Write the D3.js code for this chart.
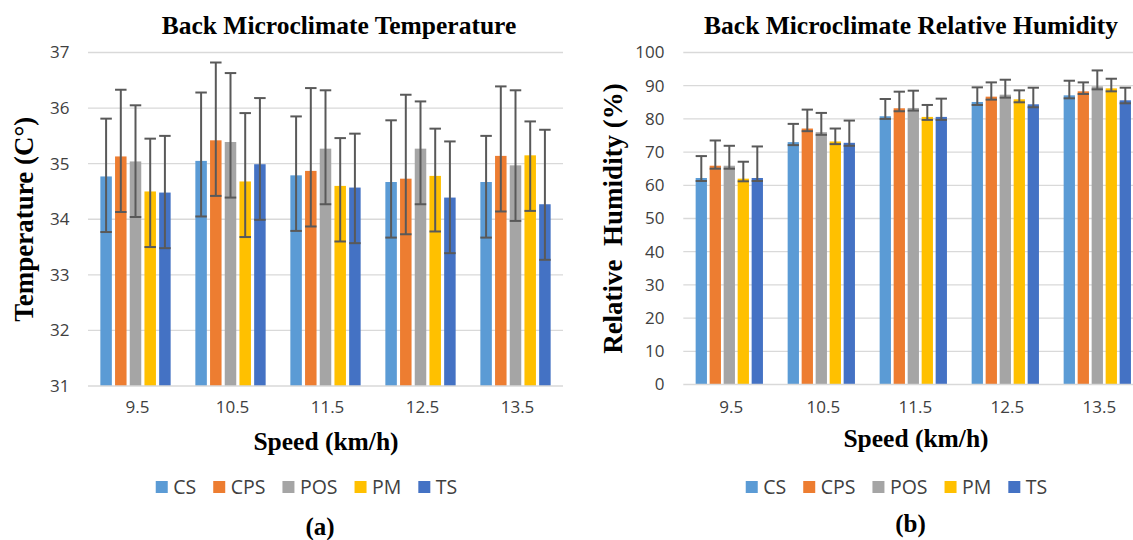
<!DOCTYPE html>
<html><head><meta charset="utf-8">
<script src="https://cdn.jsdelivr.net/npm/d3@7"></script>
<style>body{margin:0;background:#fff} svg{display:block}</style>
</head><body><svg id="c" width="1133" height="540"></svg>
<script>
// ---------- DATA ----------
const categories = ["9.5", "10.5", "11.5", "12.5", "13.5"];
const seriesNames = ["CS", "CPS", "POS", "PM", "TS"];
const seriesColors = ["#5B9BD5", "#ED7D31", "#A5A5A5", "#FFC000", "#4472C4"];

// Temperature (°C), rows = series (CS, CPS, POS, PM, TS), cols = speeds
const tempMean = [
  [34.77, 35.05, 34.79, 34.67, 34.67],
  [35.13, 35.42, 34.87, 34.73, 35.14],
  [35.04, 35.39, 35.27, 35.27, 34.97],
  [34.50, 34.68, 34.60, 34.78, 35.15],
  [34.48, 34.99, 34.57, 34.39, 34.27]
];
const tempErrPlus = [
  [1.04, 1.23, 1.06, 1.11, 0.83],
  [1.20, 1.40, 1.49, 1.51, 1.25],
  [1.01, 1.24, 1.05, 0.85, 1.35],
  [0.95, 1.23, 0.86, 0.85, 0.61],
  [1.02, 1.19, 0.97, 1.01, 1.34]
];
const tempErrMinus = [
  [1.0, 1.0, 1.0, 1.0, 1.0],
  [1.0, 1.0, 1.0, 1.0, 1.0],
  [1.0, 1.0, 1.0, 1.0, 1.0],
  [1.0, 1.0, 1.0, 1.0, 1.0],
  [1.0, 1.0, 1.0, 1.0, 1.0]
];
const tempTicks = [31, 32, 33, 34, 35, 36, 37];

// Relative humidity (%)
const humMean = [
  [62.2, 73.0, 80.8, 85.1, 87.1],
  [65.9, 77.1, 83.2, 86.7, 88.3],
  [65.9, 76.0, 83.3, 87.3, 89.8],
  [62.0, 73.2, 80.6, 85.9, 89.2],
  [62.2, 72.8, 80.6, 84.4, 85.6]
];
const humErrPlus = [
  [6.6, 5.5, 5.2, 4.4, 4.4],
  [7.6, 5.7, 5.0, 4.3, 2.7],
  [6.0, 5.8, 5.2, 4.5, 4.8],
  [5.1, 3.9, 3.6, 2.7, 2.9],
  [9.5, 6.7, 5.5, 5.0, 3.8]
];
const humErrMinus = [
  [0.9, 0.9, 0.8, 0.9, 0.9],
  [0.9, 0.8, 0.9, 0.9, 0.8],
  [0.9, 0.8, 0.8, 0.9, 0.9],
  [0.8, 0.8, 0.9, 0.9, 0.9],
  [0.9, 0.9, 0.9, 0.9, 0.9]
];
const humTicks = [0, 10, 20, 30, 40, 50, 60, 70, 80, 90, 100];

// ---------- DRAW ----------
const svg = d3.select("#c");
const SANS = "'Open Sans', sans-serif";
const SERIF = "'Liberation Serif', 'Times New Roman', serif";

function panel(o) {
  const x0 = d3.scaleBand().domain(categories).range([o.left, o.right]);
  const bw = x0.bandwidth();
  const x1 = d3.scaleBand().domain(seriesNames)
    .range([(bw - o.groupW) / 2, (bw + o.groupW) / 2]).paddingInner(o.pad);
  const y = d3.scaleLinear().domain(o.domain).range([o.bottom, o.top]);
  const g = svg.append("g");

  // gridlines
  g.append("g").selectAll("line").data(o.ticks.slice(1)).join("line")
    .attr("x1", o.left).attr("x2", o.right)
    .attr("y1", d => y(d)).attr("y2", d => y(d))
    .attr("stroke", "#d9d9d9").attr("stroke-width", 1.3);

  // y axis labels
  const ya = g.append("g").attr("transform", `translate(${o.left},0)`)
    .call(d3.axisLeft(y).tickValues(o.ticks).tickFormat(d3.format("d"))
      .tickSize(0).tickPadding(o.left - o.tickRight));
  ya.select(".domain").remove();
  ya.selectAll("text").attr("font-family", SANS).attr("font-size", 17).attr("fill", "#404040");

  // bars
  seriesNames.forEach((s, i) => {
    g.append("g").selectAll("rect").data(categories).join("rect")
      .attr("x", c => x0(c) + x1(s))
      .attr("width", x1.bandwidth())
      .attr("y", (c, j) => y(o.mean[i][j]))
      .attr("height", (c, j) => y(o.domain[0]) - y(o.mean[i][j]))
      .attr("fill", seriesColors[i]);
  });

  // error bars
  const eg = g.append("g").attr("stroke", "#595959").attr("stroke-width", 2);
  seriesNames.forEach((s, i) => {
    categories.forEach((c, j) => {
      const cx = x0(c) + x1(s) + x1.bandwidth() / 2;
      const hi = y(o.mean[i][j] + o.plus[i][j]);
      const lo = y(o.mean[i][j] - o.minus[i][j]);
      const hw = x1.bandwidth() / 2;
      eg.append("line").attr("x1", cx).attr("x2", cx).attr("y1", hi).attr("y2", lo);
      eg.append("line").attr("x1", cx - hw).attr("x2", cx + hw).attr("y1", hi).attr("y2", hi);
      eg.append("line").attr("x1", cx - hw).attr("x2", cx + hw).attr("y1", lo).attr("y2", lo);
    });
  });

  // baseline
  g.append("line").attr("x1", o.left).attr("x2", o.right)
    .attr("y1", y(o.domain[0])).attr("y2", y(o.domain[0]))
    .attr("stroke", "#d9d9d9").attr("stroke-width", 1.5);

  // x axis labels
  const xa = g.append("g").attr("transform", `translate(0,${o.bottom})`)
    .call(d3.axisBottom(x0).tickSize(0));
  xa.select(".domain").remove();
  xa.selectAll("text").attr("y", o.xTickBase - o.bottom).attr("dy", 0)
    .attr("dx", o.xTickDx)
    .attr("font-family", SANS).attr("font-size", 17).attr("fill", "#404040");

  // title
  g.append("text").attr("x", o.titleX).attr("y", o.titleY).attr("text-anchor", "middle")
    .attr("font-family", SERIF).attr("font-weight", "bold").attr("font-size", 25.5)
    .attr("fill", "#000").text(o.title);

  // y axis title
  g.append("text").attr("transform", `translate(${o.yTitleX},${(o.top + o.bottom) / 2}) rotate(-90)`)
    .attr("text-anchor", "middle").attr("dominant-baseline", "central")
    .attr("font-family", SERIF).attr("font-weight", "bold").attr("font-size", 27)
    .attr("fill", "#000").style("white-space", "pre").text(o.yTitle);

  // x axis title
  g.append("text").attr("x", o.xTitleX).attr("y", o.xTitleY).attr("text-anchor", "middle")
    .attr("font-family", SERIF).attr("font-weight", "bold").attr("font-size", 25.5)
    .attr("fill", "#000").text("Speed (km/h)");

  // legend
  const lg = g.append("g");
  let lx = 0;
  seriesNames.forEach((s, i) => {
    lg.append("rect").attr("x", lx).attr("y", -6).attr("width", 12).attr("height", 12)
      .attr("fill", seriesColors[i]);
    const t = lg.append("text").attr("x", lx + 17.5).attr("y", 6.8)
      .attr("font-family", SANS).attr("font-size", 19.5).attr("fill", "#404040").text(s);
    lx += 17.5 + t.node().getComputedTextLength() + 17;
  });
  const lw = lx - 17;
  lg.attr("transform", `translate(${o.legendCX - lw / 2},${o.legendY})`);

  // sub label
  g.append("text").attr("x", o.subX).attr("y", o.subY).attr("text-anchor", "middle")
    .attr("font-family", SERIF).attr("font-weight", "bold").attr("font-size", 25)
    .attr("fill", "#000").text(o.sub);
}

panel({
  left: 88, right: 563, top: 52.5, bottom: 386, groupW: 70.3, pad: 0.218,
  domain: [31, 37], ticks: tempTicks, tickRight: 69.5,
  mean: tempMean, plus: tempErrPlus, minus: tempErrMinus,
  xTickBase: 413, xTickDx: 2,
  title: "Back Microclimate Temperature", titleX: 339, titleY: 34,
  yTitle: "Temperature (C°)", yTitleX: 24,
  xTitleX: 326, xTitleY: 449.5,
  legendCX: 306.5, legendY: 487,
  sub: "(a)", subX: 320, subY: 535
});

panel({
  left: 683.3, right: 1143.3, top: 52.5, bottom: 384.5, groupW: 67.3, pad: 0.193,
  domain: [0, 100], ticks: humTicks, tickRight: 664.5,
  mean: humMean, plus: humErrPlus, minus: humErrMinus,
  xTickBase: 413, xTickDx: 2,
  title: "Back Microclimate Relative Humidity", titleX: 911, titleY: 34,
  yTitle: "Relative  Humidity (%)", yTitleX: 612.5,
  xTitleX: 916, xTitleY: 447,
  legendCX: 896.5, legendY: 487,
  sub: "(b)", subX: 910.5, subY: 532
});
</script></body></html>
